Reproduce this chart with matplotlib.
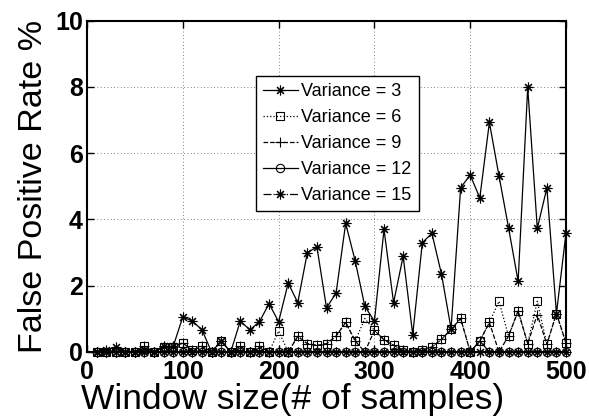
import matplotlib
matplotlib.use("Agg")
import matplotlib.pyplot as plt
import numpy as np

plt.rcParams['font.family'] = ['Liberation Sans', 'DejaVu Sans']

window = list(range(10, 501, 10))

var3 = [0, 0.05, 0.15, 0, 0, 0.05, 0, 0.17, 0.17, 1.06,
        0.93, 0.67, 0, 0.33, 0, 0.93, 0.67, 0.91, 1.46, 0.91,
        2.08, 1.49, 3.0, 3.17, 1.33, 1.78, 3.88, 2.74, 1.38, 0.93,
        3.70, 1.49, 2.89, 0.52, 3.30, 3.58, 2.35, 0.70, 4.96, 5.34,
        4.65, 6.93, 5.32, 3.75, 2.13, 7.99, 3.73, 4.95, 1.16, 3.60]
var6 = [0, 0, 0, 0, 0, 0.17, 0, 0.15, 0.15, 0.27,
        0.05, 0.17, 0, 0.33, 0, 0.17, 0, 0.17, 0, 0.63,
        0, 0.47, 0.25, 0.2, 0.25, 0.48, 0.89, 0.33, 1.01, 0.65,
        0.37, 0.2, 0.05, 0, 0.05, 0.15, 0.38, 0.68, 1.01, 0,
        0.33, 0.89, 1.53, 0.48, 1.24, 0.25, 1.53, 0.23, 1.16, 0.27]
var9 = [0, 0, 0, 0, 0, 0.17, 0, 0.15, 0.15, 0.27,
        0.05, 0.17, 0, 0.33, 0, 0.17, 0, 0.17, 0, 0,
        0, 0.47, 0.25, 0.2, 0.25, 0.48, 0.89, 0.33, 0, 0.65,
        0.37, 0.2, 0.05, 0, 0.05, 0.15, 0.38, 0.68, 1.01, 0,
        0.33, 0.89, 0, 0.48, 1.24, 0.25, 1.13, 0.23, 1.16, 0.27]
var12 = [0] * 40 + [0.33] + [0] * 9
var15 = [0] * 50

labels = ["Variance = 3", "Variance = 6", "Variance = 9", "Variance = 12", "Variance = 15"]
xticks = [0, 100, 200, 300, 400, 500]
yticks = [0, 2, 4, 6, 8, 10]

fig = plt.figure(figsize=(5.89, 4.18), dpi=100)
ax = fig.add_axes([0.1477, 0.158, 0.8133, 0.7925])

ast = (8, 2, 0)
styles = [
    dict(linestyle='-', marker=ast, mfc='black', markersize=7),
    dict(linestyle=':', marker='s', mfc='none', markersize=5.5),
    dict(linestyle='--', marker='+', mfc='none', markersize=7),
    dict(linestyle='-', marker='o', mfc='none', markersize=6),
    dict(linestyle='-.', marker=ast, mfc='black', markersize=7),
]
series = [var3, var6, var9, var12, var15]
for s, st, lab in zip(series, styles, labels):
    ax.plot(window, s, color='black', linewidth=0.9,
            markeredgewidth=0.8, markeredgecolor='black', label=lab,
            clip_on=False, **st)

ax.set_xlim(0, 500)
ax.set_ylim(0, 10)
ax.set_xticks(xticks)
ax.set_yticks(yticks)
ax.grid(True, linestyle=(0, (1, 3)), color='#555555', linewidth=0.6)
ax.tick_params(direction='in', length=5, width=1, top=True, right=True,
               labelsize=18)
ax.tick_params(axis='x', pad=6)
ax.tick_params(axis='y', pad=3)
for lbl in ax.get_xticklabels() + ax.get_yticklabels():
    lbl.set_fontweight('bold')
for sp in ax.spines.values():
    sp.set_linewidth(1.5)

ax.set_xlabel("Window size(# of samples)", fontsize=25.5, va='center')
ax.xaxis.set_label_coords(0.43, -0.143)
ax.set_ylabel("False Positive Rate %", fontsize=24.5, labelpad=4)

leg = ax.legend(loc='upper left', bbox_to_anchor=(0.353, 0.834), fontsize=13,
                frameon=True, fancybox=False, edgecolor='black',
                framealpha=1, handlelength=1.9, handletextpad=0.2,
                labelspacing=0.5, borderpad=0.4, borderaxespad=0)
leg.get_frame().set_linewidth(1.0)

fig.savefig("out.png", dpi=100)
